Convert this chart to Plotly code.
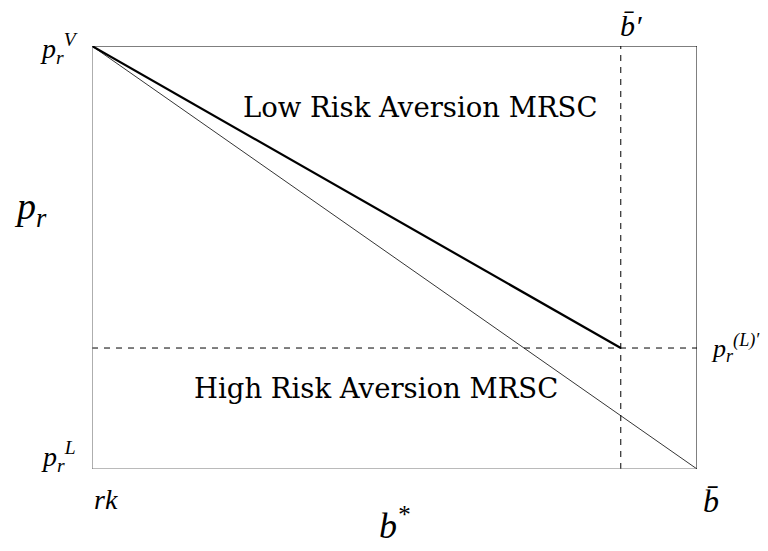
import plotly.graph_objects as go

# Data (normalized axes: x from rk to b̄, y from p_r^L to p_r^V)
x_min, x_max = 0.0, 1.0
y_min, y_max = 0.0, 1.0
b_bar_prime = 0.874
p_L_prime = 0.286

low_x = [0.0, b_bar_prime]
low_y = [1.0, p_L_prime]
high_x = [0.0, 1.0]
high_y = [1.0, 0.0]

x_tick_labels = ["<i>rk</i>", "<i>b̄</i>"]
y_tick_labels = ["<i>p<sub>r</sub><sup>L</sup></i>", "<i>p<sub>r</sub><sup>V</sup></i>"]

FONT = "DejaVu Serif"
MFONT = "Liberation Serif"

fig = go.Figure()
# frame
fig.add_shape(type="line", x0=0, x1=0, y0=0, y1=1, xref="x", yref="y", line=dict(color="#777", width=1.2))
fig.add_shape(type="line", x0=0, x1=1, y0=0, y1=0, xref="x", yref="y", line=dict(color="#777", width=1.2))
fig.add_shape(type="line", x0=0, x1=1, y0=1, y1=1, xref="x", yref="y", line=dict(color="black", width=1))
fig.add_shape(type="line", x0=1, x1=1, y0=0, y1=1, xref="x", yref="y", line=dict(color="black", width=1))

# dashed guides
fig.add_trace(go.Scatter(x=[b_bar_prime, b_bar_prime], y=[y_min, y_max], mode="lines",
                         line=dict(color="black", width=1, dash="6px,6px"), hoverinfo="skip"))
fig.add_trace(go.Scatter(x=[x_min, x_max], y=[p_L_prime, p_L_prime], mode="lines",
                         line=dict(color="black", width=1, dash="6px,6px"), hoverinfo="skip"))
# lines
fig.add_trace(go.Scatter(x=high_x, y=high_y, mode="lines", line=dict(color="black", width=0.8)))
fig.add_trace(go.Scatter(x=low_x, y=low_y, mode="lines", line=dict(color="black", width=2.2)))

ann = [
    dict(x=0.542, y=0.856, text="Low Risk Aversion MRSC", size=27.5),
    dict(x=0.469, y=0.191, text="High Risk Aversion MRSC", size=27.5),
]
for a in ann:
    fig.add_annotation(x=a["x"], y=a["y"], xref="paper", yref="paper", text=a["text"], showarrow=False,
                       xanchor="center", yanchor="middle",
                       font=dict(family=FONT, size=a["size"], color="black"))

# tick-like labels
def lab(x, y, text, size):
    fig.add_annotation(x=x, y=y, xref="paper", yref="paper", text=text, showarrow=False,
                       xanchor="center", yanchor="middle",
                       font=dict(family=MFONT, size=size, color="black"))

lab(-0.055, 0.995, y_tick_labels[1], 28)
lab(-0.056, 0.030, y_tick_labels[0], 28)
lab(0.023, -0.073, x_tick_labels[0], 28)
lab(1.023, -0.076, x_tick_labels[1], 32)
lab(0.891, 1.048, "<i>b̄′</i>", 30)
lab(1.063, 0.286, "<i>p<sub>r</sub><sup>(L)′</sup></i>", 26)
lab(-0.101, 0.615, "<i>p<sub>r</sub></i>", 38)
lab(0.5, -0.128, "<i>b<sup>*</sup></i>", 36)

fig.update_layout(
    width=760, height=543,
    margin=dict(l=84, r=71, t=38, b=82),
    paper_bgcolor="white", plot_bgcolor="white",
    showlegend=False,
    xaxis=dict(range=[x_min, x_max], visible=False, fixedrange=True),
    yaxis=dict(range=[y_min, y_max], visible=False, fixedrange=True),
)

fig.write_html("out.html")
